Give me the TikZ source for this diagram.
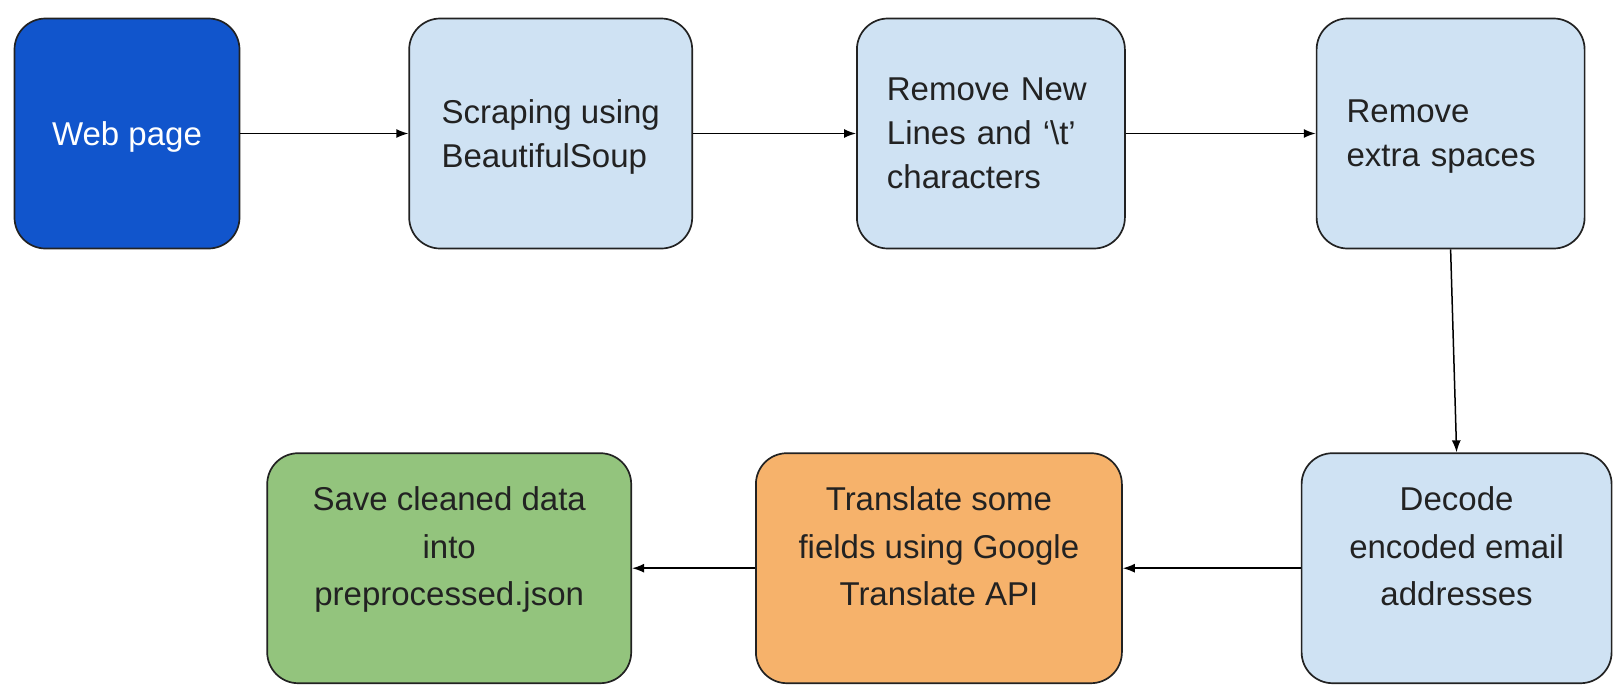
\documentclass[tikz,border=0pt]{standalone}
\usepackage{fontspec}
\setmainfont{Liberation Sans}
\usepackage{tikz}
\usetikzlibrary{positioning,arrows.meta}

\definecolor{webblue}{HTML}{1155CC}
\definecolor{stepblue}{HTML}{CFE2F3}
\definecolor{transorange}{HTML}{F6B26B}
\definecolor{savegreen}{HTML}{93C47D}
\definecolor{edgegray}{HTML}{222222}

\tikzset{
    stepbox/.style={draw=edgegray, line width=1.7pt, rounded corners=31pt, minimum height=230pt,
        inner sep=0pt, text=edgegray},
    topbox/.style={stepbox, align=left, font=\fontsize{33}{44}\selectfont},
    flatbox/.style={topbox, text depth=0pt},
    lowbox/.style={stepbox, align=center, text depth=44pt, font=\fontsize{33}{47.5}\selectfont},
}

\begin{document}
\begin{tikzpicture}[x=1pt, y=-1pt, line width=1.5pt, >={Latex[length=12pt,width=9pt]}]
    \useasboundingbox (0,0) rectangle (1616,694);

    \node[flatbox, fill=webblue, text=white, minimum width=225pt] (web) at (127,133.5) {Web page};
    \node[flatbox, fill=stepblue, minimum width=283pt, right=168pt of web] (scrape) {Scraping using\\BeautifulSoup};
    \node[topbox, fill=stepblue, minimum width=268pt, text width=208pt, right=163pt of scrape] (newlines) {Remove New\\Lines and ‘\textbackslash t’\\characters};
    \node[topbox, fill=stepblue, minimum width=268pt, text width=208pt, text depth=44pt, right=190pt of newlines] (spaces) {Remove\\extra spaces};

    \node[lowbox, fill=stepblue, minimum width=310pt, below=203pt of spaces, xshift=6pt] (decode) {Decode\\encoded email\\addresses};
    \node[lowbox, fill=transorange, minimum width=366pt, left=178pt of decode] (translate) {Translate some\\fields using Google\\Translate API};
    \node[lowbox, fill=savegreen, minimum width=364pt, left=123pt of translate] (save) {Save cleaned data\\into\\preprocessed.json};

    \draw[->] (web) -- (scrape);
    \draw[->] (scrape) -- (newlines);
    \draw[->] (newlines) -- (spaces);
    \draw[->] (spaces.south) -- (decode.north);
    \draw[->] (decode) -- (translate);
    \draw[->] (translate) -- (save);
\end{tikzpicture}
\end{document}
